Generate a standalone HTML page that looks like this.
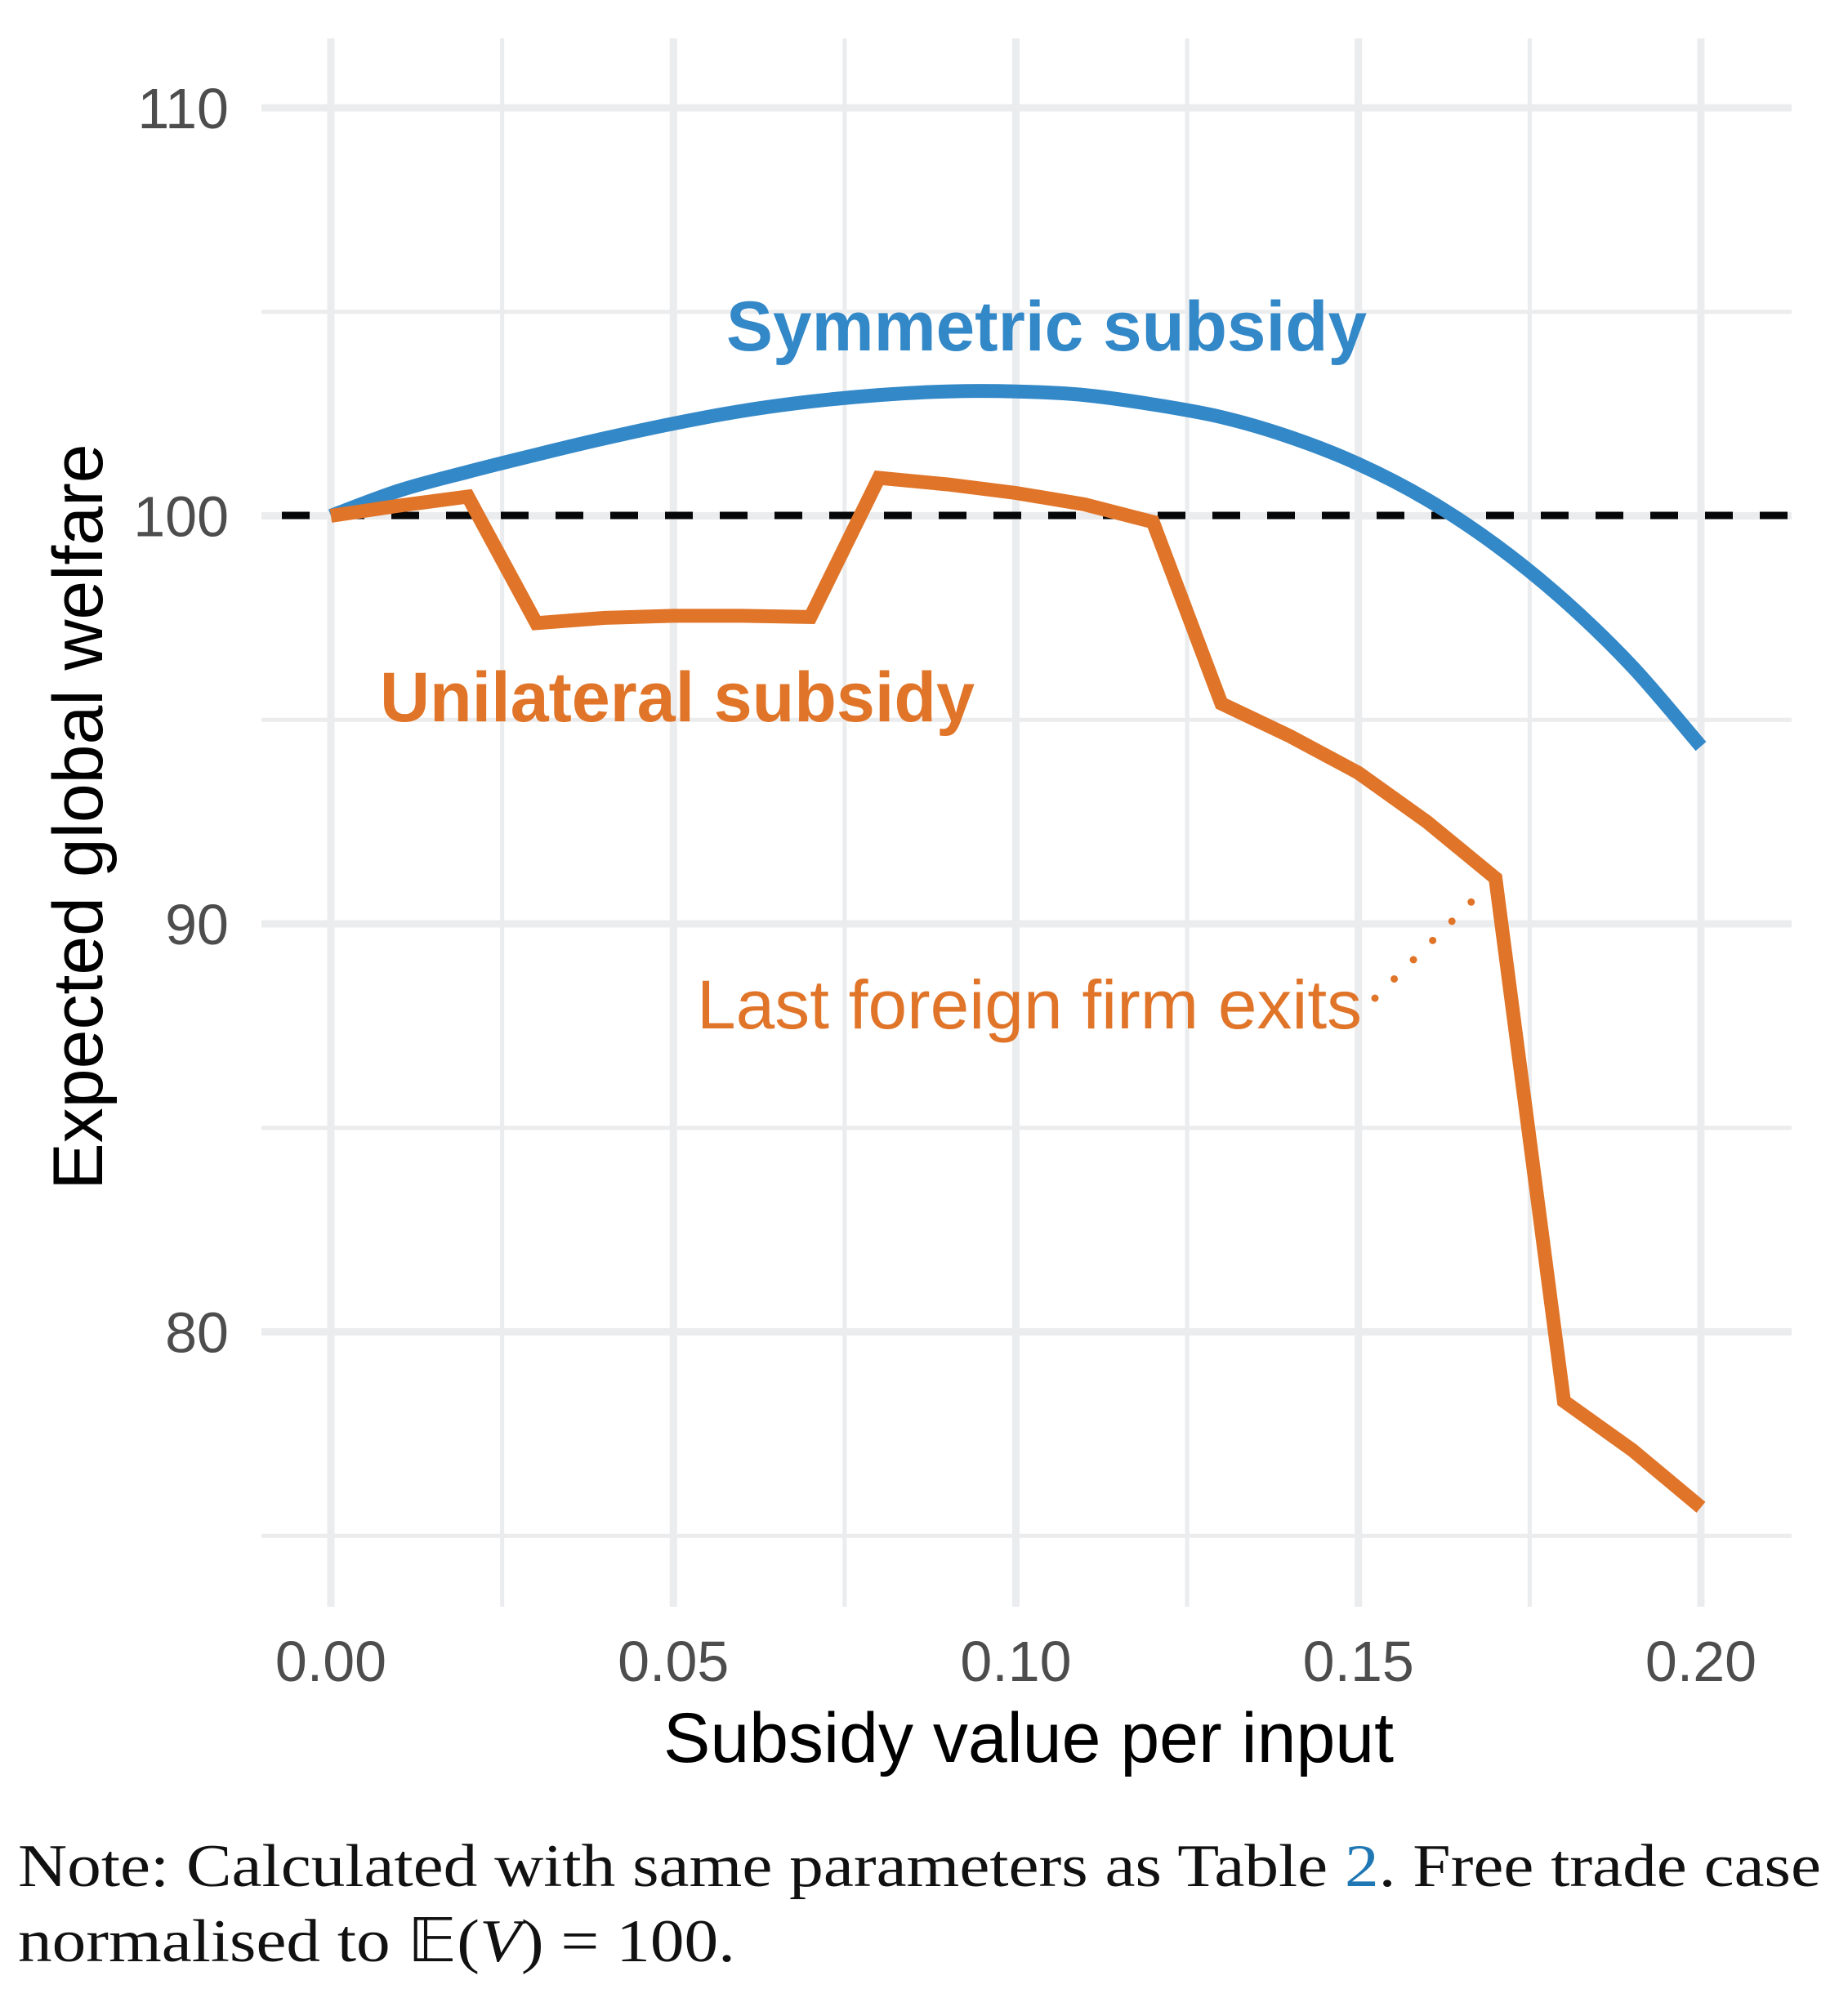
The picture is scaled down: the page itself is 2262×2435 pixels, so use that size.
<!DOCTYPE html>
<html><head><meta charset="utf-8">
<style>
html,body{margin:0;padding:0;background:#fff;}
svg{display:block;}
</style></head>
<body>
<svg id="chart" width="2262" height="2435" viewBox="0 0 2262 2435" xmlns="http://www.w3.org/2000/svg">
<g id="grid"></g>
<line x1="320" y1="631" x2="2193" y2="631" stroke="#050708" stroke-width="9" stroke-dasharray="34 33" stroke-dashoffset="-25"/>
<g id="series"></g>
<g id="axes"></g>
<text x="889" y="429" font-family="Liberation Sans, sans-serif" font-weight="bold" font-size="86" fill="#3388C8" textLength="784" lengthAdjust="spacingAndGlyphs">Symmetric subsidy</text>
<text x="465" y="883" font-family="Liberation Sans, sans-serif" font-weight="bold" font-size="86" fill="#E07428" textLength="728" lengthAdjust="spacingAndGlyphs">Unilateral subsidy</text>
<text x="853" y="1259" font-family="Liberation Sans, sans-serif" font-size="84" fill="#E07428" textLength="814" lengthAdjust="spacingAndGlyphs">Last foreign firm exits</text>
<line x1="1683" y1="1222" x2="1801" y2="1104" stroke="#E07428" stroke-width="9" stroke-linecap="round" stroke-dasharray="0 33.3"/>
<text x="1259" y="2157" text-anchor="middle" font-family="Liberation Sans, sans-serif" font-size="86" fill="#000">Subsidy value per input</text>
<text transform="translate(125,1000) rotate(-90)" text-anchor="middle" font-family="Liberation Sans, sans-serif" font-size="86" fill="#000">Expected global welfare</text>
<text x="22" y="2309" font-family="Liberation Serif, serif" font-size="74" fill="#111" textLength="2207" lengthAdjust="spacingAndGlyphs">Note: Calculated with same parameters as Table <tspan fill="#1f77b4">2</tspan>. Free trade case</text>
<text x="22" y="2401" font-family="Liberation Serif, serif" font-size="74" fill="#111" textLength="878" lengthAdjust="spacingAndGlyphs">normalised to 𝔼(<tspan font-style="italic">V</tspan>) = 100.</text>
</svg>
<script>
const xValues = [0,0.01,0.02,0.03,0.04,0.05,0.06,0.07,0.08,0.09,0.10,0.11,0.12,0.13,0.14,0.15,0.16,0.17,0.18,0.19,0.20];
const symmetricWelfare = [100,100.62,101.08,101.5,101.9,102.26,102.57,102.8,102.96,103.05,103.05,102.96,102.73,102.42,101.93,101.27,100.4,99.29,97.93,96.3,94.35];
const unilateralWelfare = [100,100.25,100.47,97.37,97.5,97.55,97.55,97.52,100.93,100.77,100.56,100.28,99.85,95.4,94.6,93.7,92.5,91.12,78.3,77.1,75.7];
const xTickValues = [0,0.05,0.10,0.15,0.20];
const xTickLabels = ["0.00","0.05","0.10","0.15","0.20"];
const xMinorValues = [0.025,0.075,0.125,0.175];
const yTickValues = [80,90,100,110];
const yTickLabels = ["80","90","100","110"];
const yMinorValues = [75,85,95,105];

const NS = "http://www.w3.org/2000/svg";
const PL = 320, PR = 2193, PT = 47, PB = 1967;
function xs(v){ return 405 + v * 8385; }
function ys(v){ return 132 + (110 - v) * 49.95; }
function mk(tag, attrs, parent){
  const el = document.createElementNS(NS, tag);
  for (const k in attrs) el.setAttribute(k, attrs[k]);
  parent.appendChild(el);
  return el;
}
const grid = document.getElementById('grid');
yMinorValues.forEach(v => {
  const l = mk('line', {x1:PL, x2:PR, y1:ys(v), y2:ys(v), stroke:'#EBECEE', 'stroke-width':5}, grid);
  
  
});
xMinorValues.forEach(v => {
  const l = mk('line', {x1:xs(v), x2:xs(v), y1:PT, y2:PB, stroke:'#EBECEE', 'stroke-width':5}, grid);
  
  
});
yTickValues.forEach(v => {
  const l = mk('line', {x1:PL, x2:PR, y1:ys(v), y2:ys(v), stroke:'#EBECEE', 'stroke-width':9}, grid);
  
  
});
xTickValues.forEach(v => {
  const l = mk('line', {x1:xs(v), x2:xs(v), y1:PT, y2:PB, stroke:'#EBECEE', 'stroke-width':9}, grid);
  
  
});
const axes = document.getElementById('axes');
xTickValues.forEach((v, i) => {
  const t = mk('text', {x:xs(v), y:2058, 'text-anchor':'middle', 'font-family':'Liberation Sans, sans-serif', 'font-size':70, fill:'#4D4D4D'}, axes);
  t.textContent = xTickLabels[i];
  
  
});
yTickValues.forEach((v, i) => {
  const t = mk('text', {x:280, y:ys(v) + 25, 'text-anchor':'end', 'font-family':'Liberation Sans, sans-serif', 'font-size':70, fill:'#4D4D4D'}, axes);
  t.textContent = yTickLabels[i];
  
  
});
const series = document.getElementById('series');
function pts(vals){ return vals.map((v, i) => xs(xValues[i]).toFixed(1) + ',' + ys(v).toFixed(1)).join(' '); }
function smoothPath(vals){
  const p = vals.map((v, i) => [xs(xValues[i]), ys(v)]);
  let d = 'M' + p[0][0].toFixed(1) + ',' + p[0][1].toFixed(1);
  for (let i = 0; i < p.length - 1; i++) {
    const p0 = p[Math.max(0, i - 1)], p1 = p[i], p2 = p[i + 1], p3 = p[Math.min(p.length - 1, i + 2)];
    const c1x = p1[0] + (p2[0] - p0[0]) / 6, c1y = p1[1] + (p2[1] - p0[1]) / 6;
    const c2x = p2[0] - (p3[0] - p1[0]) / 6, c2y = p2[1] - (p3[1] - p1[1]) / 6;
    d += ' C' + c1x.toFixed(1) + ',' + c1y.toFixed(1) + ' ' + c2x.toFixed(1) + ',' + c2y.toFixed(1) + ' ' + p2[0].toFixed(1) + ',' + p2[1].toFixed(1);
  }
  return d;
}
const sym = mk('path', {d:smoothPath(symmetricWelfare), fill:'none', stroke:'#3388C8', 'stroke-width':17, 'stroke-linecap':'butt'}, series);


const uni = mk('polyline', {points:pts(unilateralWelfare), fill:'none', stroke:'#E07428', 'stroke-width':17, 'stroke-linejoin':'miter', 'stroke-linecap':'butt'}, series);


</script>
</body></html>
